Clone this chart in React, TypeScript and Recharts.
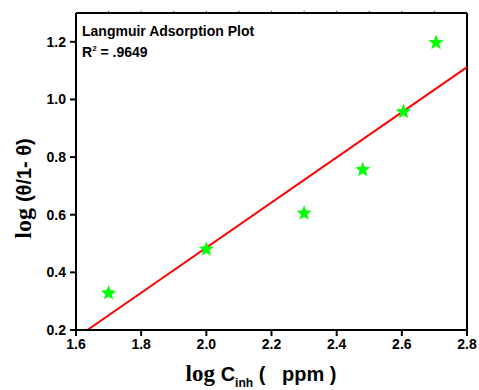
import { ScatterChart, Scatter, XAxis, YAxis, ReferenceLine, Label } from 'recharts'

const logC = [1.7, 2.0, 2.3, 2.48, 2.605, 2.705]
const logTheta = [0.328, 0.48, 0.605, 0.756, 0.957, 1.197]
const fitStart = { x: 1.635, y: 0.2 }
const fitEnd = { x: 2.8, y: 1.112 }
const xTicks = [1.6, 1.8, 2.0, 2.2, 2.4, 2.6, 2.8]
const xMinorTicks = [1.7, 1.8, 1.9, 2.0, 2.1, 2.2, 2.3, 2.4, 2.5, 2.6, 2.7]
const yTicks = [0.2, 0.4, 0.6, 0.8, 1.0, 1.2]
const xMax = 2.8
const yMax = 1.3

const points = logC.map((x, i) => ({ x, y: logTheta[i] }))

const SANS = '"Liberation Sans", Arial, sans-serif'
const SERIF = '"Liberation Serif", "Times New Roman", serif'

function Star(props: any) {
  const { cx, cy } = props
  const outer = 8
  const inner = 3.4
  const pts: string[] = []
  for (let i = 0; i < 10; i++) {
    const r = i % 2 === 0 ? outer : inner
    const a = -Math.PI / 2 + (i * Math.PI) / 5
    pts.push(`${cx + r * Math.cos(a)},${cy + r * Math.sin(a)}`)
  }
  return <polygon points={pts.join(' ')} fill="#00ff00" />
}

function XTitle(props: any) {
  const { viewBox } = props
  const cx = viewBox.x + viewBox.width / 2
  return (
    <text x={cx - 86} y={viewBox.y + 51} fill="#000" fontWeight="bold">
      <tspan fontFamily={SERIF} fontSize={23}>log </tspan>
      <tspan fontFamily={SANS} fontSize={20}>C</tspan>
      <tspan fontFamily={SANS} fontSize={12} dy={6}>inh</tspan>
      <tspan fontFamily={SANS} fontSize={20} dy={-6}>{' (\u00a0\u00a0 ppm )'}</tspan>
    </text>
  )
}

function YTitle(props: any) {
  const { viewBox } = props
  const cy = viewBox.y + viewBox.height / 2 + 17
  const x = 31
  return (
    <text
      x={x}
      y={cy}
      transform={`rotate(-90, ${x}, ${cy})`}
      textAnchor="middle"
      fill="#000"
      fontWeight="bold"
    >
      <tspan fontFamily={SERIF} fontSize={24}>log </tspan>
      <tspan fontFamily={SANS} fontSize={20}>(θ/1- θ)</tspan>
    </text>
  )
}

const tickStyle = { fill: '#000', fontSize: 14, fontWeight: 'bold', fontFamily: SANS }

export default function App() {
  return (
    <div style={{ position: 'absolute', left: 0, top: 0, width: 479, height: 390, background: '#fff' }}>
      <ScatterChart width={479} height={390} margin={{ top: 13, right: 12, bottom: 0, left: 0 }}>
        <XAxis
          type="number"
          dataKey="x"
          domain={[1.6, xMax]}
          ticks={xTicks}
          tickFormatter={(v: number) => v.toFixed(1)}
          tick={tickStyle}
          tickSize={6}
          tickMargin={3}
          height={60}
          axisLine={{ stroke: '#000', strokeWidth: 2 }}
          tickLine={{ stroke: '#000', strokeWidth: 2 }}
          allowDataOverflow
        >
          <Label content={<XTitle />} />
        </XAxis>
        <YAxis
          type="number"
          dataKey="y"
          domain={[0.2, yMax]}
          ticks={yTicks}
          tickFormatter={(v: number) => v.toFixed(1)}
          tick={tickStyle}
          tickSize={6}
          tickMargin={4}
          width={76}
          axisLine={{ stroke: '#000', strokeWidth: 2 }}
          tickLine={{ stroke: '#000', strokeWidth: 2 }}
          allowDataOverflow
        >
          <Label content={<YTitle />} />
        </YAxis>
        {xMinorTicks.map((t) => (
          <ReferenceLine
            key={t}
            segment={[{ x: t, y: yMax }, { x: t, y: yMax + 0.008 }]}
            stroke="#555"
            strokeWidth={1}
            ifOverflow="visible"
          />
        ))}
        <ReferenceLine y={yMax} stroke="#000" strokeWidth={2} ifOverflow="visible" />
        <ReferenceLine x={xMax} stroke="#000" strokeWidth={2} ifOverflow="visible" />
        <ReferenceLine
          segment={[fitStart, fitEnd]}
          stroke="#ff0000"
          strokeWidth={2}
          ifOverflow="visible"
        />
        <Scatter data={points} shape={<Star />} isAnimationActive={false} />
      </ScatterChart>
      <div
        style={{
          position: 'absolute',
          left: 82,
          top: 22,
          fontFamily: SANS,
          fontWeight: 'bold',
          fontSize: 14,
          lineHeight: '18px',
          color: '#000',
        }}
      >
        <div>Langmuir Adsorption Plot</div>
        <div>
          R<sup style={{ fontSize: 8, verticalAlign: 6 }}>2</sup> = .9649
        </div>
      </div>
    </div>
  )
}
